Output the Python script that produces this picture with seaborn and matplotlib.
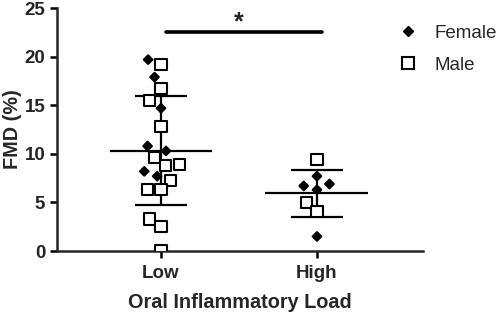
import numpy as np
import pandas as pd
import matplotlib
matplotlib.use("Agg")
import matplotlib.pyplot as plt
import seaborn as sns
from matplotlib.lines import Line2D
from matplotlib.markers import MarkerStyle

# FMD values
low_female = [19.7, 17.9, 14.7, 10.8, 10.3, 8.2, 7.7]
low_male = [19.2, 16.7, 15.5, 12.8, 9.6, 8.9, 8.8, 7.3, 6.3, 6.3, 3.3, 2.5, 0.0]
high_female = [7.7, 6.7, 6.3, 6.9, 1.5]
high_male = [9.4, 5.0, 4.1]

groups = ["Low", "High"]
sexes = ["Female", "Male"]

df = pd.DataFrame({
    "load": ["Low"] * (len(low_female) + len(low_male)) + ["High"] * (len(high_female) + len(high_male)),
    "sex": ["Female"] * len(low_female) + ["Male"] * len(low_male)
           + ["Female"] * len(high_female) + ["Male"] * len(high_male),
    "fmd": low_female + low_male + high_female + high_male,
})

sns.set_style("ticks")
plt.rcParams["font.family"] = ["Liberation Sans", "DejaVu Sans"]

fig = plt.figure(figsize=(5, 3.13), dpi=100)
ax = fig.add_axes([0.114, 0.198, 0.732, 0.776])

sns.swarmplot(data=df, x="load", y="fmd", hue="sex", order=groups,
              palette={"Female": "black", "Male": "white"},
              size=8, edgecolor="black", linewidth=1.5, legend=False, ax=ax)

# swap markers: diamond for female, square for male
sq = MarkerStyle("s")
sq_path = sq.get_path().transformed(sq.get_transform())
dm = MarkerStyle("D")
dm_path = dm.get_path().transformed(dm.get_transform().scale(0.55))
for coll in ax.collections:
    fc = coll.get_facecolors()
    paths = [dm_path if c[0] < 0.5 else sq_path for c in fc]
    coll.set_paths(paths)

# mean and SD lines
for i, g in enumerate(groups):
    vals = df.loc[df["load"] == g, "fmd"]
    m, sd = vals.mean(), vals.std()
    ax.hlines(m, i - 0.33, i + 0.33, color="black", lw=1.6, zorder=1)
    ax.hlines([m - sd, m + sd], i - 0.165, i + 0.165, color="black", lw=1.6, zorder=1)
    ax.vlines(i, m - sd, m + sd, color="black", lw=1.6, zorder=1)

# significance bar
ax.plot([0.03, 1.03], [22.5, 22.5], color="black", lw=2.6, clip_on=False)
ax.text(0.5, 22.3, "*", ha="center", va="bottom", fontsize=18, fontweight="bold")

ax.set_xlim(-0.667, 1.68)
ax.set_ylim(0, 25)
ax.set_yticks([0, 5, 10, 15, 20, 25])
ax.set_xlabel("Oral Inflammatory Load", fontsize=14.3, fontweight="bold", labelpad=8)
ax.set_ylabel("FMD (%)", fontsize=14.3, fontweight="bold", labelpad=2)
for lab in ax.get_xticklabels() + ax.get_yticklabels():
    lab.set_fontweight("bold")
    lab.set_fontsize(13.5)
ax.tick_params(axis="x", pad=5)
ax.tick_params(width=1.8, length=5, color="black")
for s in ["left", "bottom"]:
    ax.spines[s].set_linewidth(1.8)
sns.despine(ax=ax)

handles = [
    Line2D([], [], marker="D", color="black", ls="none", markersize=5),
    Line2D([], [], marker="s", markerfacecolor="white", markeredgecolor="black",
           markeredgewidth=1.5, ls="none", markersize=8),
]
fig.legend(handles, sexes, loc="upper left", bbox_to_anchor=(0.76, 0.975),
           frameon=False, fontsize=13.5, labelspacing=0.78, handletextpad=0.8,
           handlelength=1.2)

fig.savefig("out.png", dpi=100)
